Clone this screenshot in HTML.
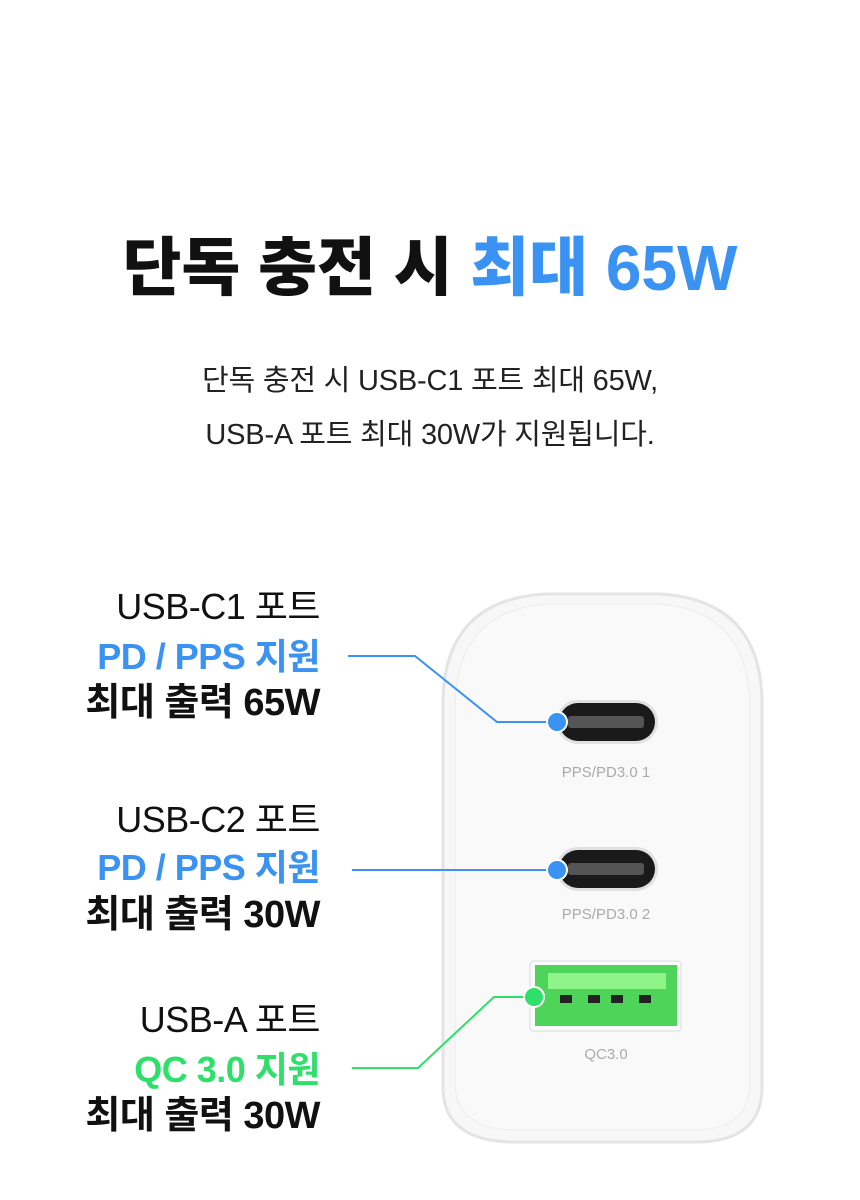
<!DOCTYPE html>
<html><head><meta charset="utf-8"><style>
body{margin:0;width:860px;height:1200px;background:#fff;overflow:hidden;position:relative;font-family:"Liberation Sans","Noto Sans CJK KR",sans-serif}
h1{position:absolute;top:223px;left:0;width:860px;margin:0;text-align:center;font-size:64px;font-weight:900;color:#111;letter-spacing:0px;line-height:90px}
h1 span{color:#3a92f2}
.sub{position:absolute;left:0;width:860px;text-align:center;font-size:29px;color:#222;letter-spacing:-0.2px}
.lb{position:absolute;right:540px;text-align:right;font-size:36px;line-height:40px;white-space:nowrap;letter-spacing:-0.5px}
.b{color:#3a92f2;font-weight:bold;font-size:36px}.g{color:#2ee06a;font-weight:bold;font-size:36px}.k{color:#111;font-weight:bold;font-size:38px}.r{color:#111}
</style></head><body>
<h1>단독 충전 시 <span>최대 65W</span></h1>
<div class="sub" style="top:357px">단독 충전 시 USB-C1 포트 최대 65W,</div>
<div class="sub" style="top:411px">USB-A 포트 최대 30W가 지원됩니다.</div>

<svg style="position:absolute;left:0;top:0" width="860" height="1200">
<path d="M545 594 L660 594 Q760 600 762 700 L762 1090 Q760 1140 700 1142 L510 1142 Q445 1140 443 1090 L443 700 Q445 600 545 594 Z" fill="#f7f7f7" stroke="#e4e4e4" stroke-width="3"/>
<path d="M548 604 L658 604 Q748 610 750 705 L750 1085 Q748 1128 698 1130 L512 1130 Q457 1128 455 1085 L455 705 Q457 610 548 604 Z" fill="#f9f9f9" stroke="#ececec" stroke-width="1"/>
<rect x="556" y="700" width="102" height="44" rx="22" fill="#e0e0e0"/>
<rect x="559" y="703" width="96" height="38" rx="19" fill="#1a1a1a"/>
<rect x="568" y="716" width="76" height="12" rx="3" fill="#555"/>
<rect x="556" y="847" width="102" height="44" rx="22" fill="#e0e0e0"/>
<rect x="559" y="850" width="96" height="38" rx="19" fill="#1a1a1a"/>
<rect x="568" y="863" width="76" height="12" rx="3" fill="#555"/>
<rect x="530" y="961" width="151" height="70" rx="3" fill="#fafafa" stroke="#dcdcdc"/>
<rect x="535" y="965" width="142" height="61" fill="#4fd45a"/>
<rect x="548" y="973" width="118" height="16" fill="#8ff58a"/>
<rect x="560" y="995" width="12" height="8" fill="#222"/><rect x="588" y="995" width="12" height="8" fill="#222"/><rect x="611" y="995" width="12" height="8" fill="#222"/><rect x="639" y="995" width="12" height="8" fill="#222"/>
<text x="606" y="777" font-size="15" fill="#aaa" text-anchor="middle" font-family="Liberation Sans,sans-serif">PPS/PD3.0 1</text>
<text x="606" y="919" font-size="15" fill="#aaa" text-anchor="middle" font-family="Liberation Sans,sans-serif">PPS/PD3.0 2</text>
<text x="606" y="1059" font-size="15" fill="#aaa" text-anchor="middle" font-family="Liberation Sans,sans-serif">QC3.0</text>
<polyline points="348,656 415,656 497,722 557,722" fill="none" stroke="#3a92f2" stroke-width="2"/>
<polyline points="352,870 557,870" fill="none" stroke="#3a92f2" stroke-width="2"/>
<polyline points="352,1068 418,1068 494,997 534,997" fill="none" stroke="#2ee06a" stroke-width="2"/>
<circle cx="557" cy="722" r="10" fill="#3a92f2" stroke="#fff" stroke-width="2"/>
<circle cx="557" cy="870" r="10" fill="#3a92f2" stroke="#fff" stroke-width="2"/>
<circle cx="534" cy="997" r="10" fill="#2ee06a" stroke="#fff" stroke-width="2"/>
</svg>

<div class="lb r" style="top:587px">USB-C1 포트</div>
<div class="lb b" style="top:637px">PD / PPS 지원</div>
<div class="lb k" style="top:683px">최대 출력 65W</div>
<div class="lb r" style="top:800px">USB-C2 포트</div>
<div class="lb b" style="top:848px">PD / PPS 지원</div>
<div class="lb k" style="top:895px">최대 출력 30W</div>
<div class="lb r" style="top:1000px">USB-A 포트</div>
<div class="lb g" style="top:1050px">QC 3.0 지원</div>
<div class="lb k" style="top:1096px">최대 출력 30W</div>
</body></html>
